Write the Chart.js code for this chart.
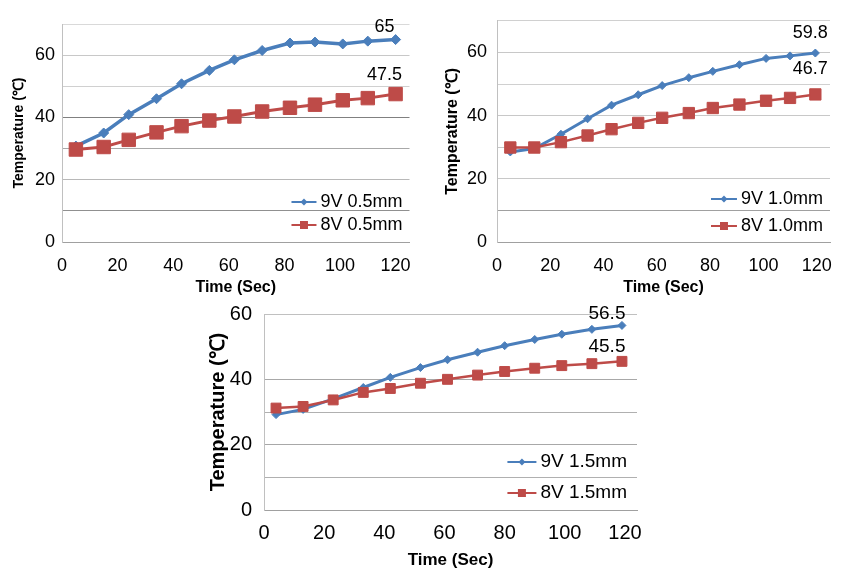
<!DOCTYPE html>
<html>
<head>
<meta charset="utf-8">
<script src="https://cdn.jsdelivr.net/npm/chart.js@4.4.1/dist/chart.umd.min.js"></script>
<style>
body { margin: 0; background: #fff; }
#wrap { position: relative; width: 843px; height: 572px; }
canvas { position: absolute; }
</style>
</head>
<body>
<div id="wrap">
<canvas id="c1" width="420" height="300" style="left:0;top:0"></canvas>
<canvas id="c2" width="423" height="300" style="left:420px;top:0"></canvas>
<canvas id="c3" width="450" height="282" style="left:200px;top:290px"></canvas>
</div>
<script>
// time (sec)
const time05 = [5, 15, 24, 34, 43, 53, 62, 72, 82, 91, 101, 110, 120];
const time10 = [5, 14, 24, 34, 43, 53, 62, 72, 81, 91, 101, 110, 119.5];
const time15 = [4, 13, 23, 33, 42, 52, 61, 71, 80, 90, 99, 109, 119];

// temperatures
const v9_05 = [30.8, 35, 40.9, 46, 50.8, 55.1, 58.5, 61.5, 63.9, 64.2, 63.6, 64.5, 65];
const v8_05 = [29.7, 30.5, 32.8, 35.2, 37.2, 39, 40.3, 41.9, 43.1, 44.1, 45.5, 46.2, 47.5];
const v9_10 = [28.5, 29.6, 34.1, 39, 43.3, 46.6, 49.5, 52, 54, 56.1, 58.1, 58.9, 59.8];
const v8_10 = [29.9, 29.9, 31.6, 33.7, 35.7, 37.7, 39.3, 40.8, 42.4, 43.5, 44.7, 45.6, 46.7];
const v9_15 = [29.2, 30.8, 34, 37.5, 40.6, 43.6, 46, 48.3, 50.3, 52.2, 53.8, 55.3, 56.5];
const v8_15 = [31.2, 31.7, 33.7, 36, 37.2, 38.8, 40, 41.3, 42.4, 43.4, 44.2, 44.8, 45.5];

const names05 = ['9V 0.5mm', '8V 0.5mm'];
const names10 = ['9V 1.0mm', '8V 1.0mm'];
const names15 = ['9V 1.5mm', '8V 1.5mm'];

const xTicks = [0, 20, 40, 60, 80, 100, 120];
const yTicks70 = [0, 10, 20, 30, 40, 50, 60, 70];
const yTicks60 = [0, 10, 20, 30, 40, 50, 60];
const yLabels = [0, 20, 40, 60];

const fam = "'Liberation Sans', Arial, sans-serif";
const blue = '#4a7ebb';
const red = '#be4b48';
Chart.defaults.font.family = fam;
Chart.defaults.color = '#000';

function marker(ctx, style, x, y, r) {
    ctx.beginPath();
    if (style === 'rectRot') {
        ctx.moveTo(x, y - r);
        ctx.lineTo(x + r, y);
        ctx.lineTo(x, y + r);
        ctx.lineTo(x - r, y);
        ctx.closePath();
    } else {
        ctx.rect(x - r, y - r, 2 * r, 2 * r);
    }
    ctx.fill();
}

// legend drawn inside the plot, bottom right
const inlineLegend = {
    id: 'inlineLegend',
    afterDraw(chart, args, o) {
        const ctx = chart.ctx;
        const area = chart.chartArea;
        const sets = chart.data.datasets;
        ctx.save();
        ctx.font = o.size + 'px ' + fam;
        ctx.textBaseline = 'middle';
        sets.forEach((ds, i) => {
            const y = area.bottom - o.bottom - (sets.length - 1 - i) * o.spacing;
            const w = ctx.measureText(ds.label).width;
            const tx = area.right - o.pad - w;
            const x1 = tx - o.gap - o.lineLen;
            ctx.strokeStyle = ds.borderColor;
            ctx.lineWidth = 2;
            ctx.beginPath();
            ctx.moveTo(x1, y);
            ctx.lineTo(tx - o.gap, y);
            ctx.stroke();
            ctx.fillStyle = ds.borderColor;
            marker(ctx, ds.pointStyle, x1 + o.lineLen / 2, y, i === 0 ? 3.5 : 4);
            ctx.fillStyle = '#000';
            ctx.fillText(ds.label, tx, y);
        });
        ctx.restore();
    }
};

// value of the last point, written above it
const endLabels = {
    id: 'endLabels',
    afterDatasetsDraw(chart, args, o) {
        const ctx = chart.ctx;
        ctx.save();
        ctx.font = o.size + 'px ' + fam;
        ctx.fillStyle = '#000';
        ctx.textAlign = 'center';
        ctx.textBaseline = 'middle';
        chart.data.datasets.forEach((ds, i) => {
            const pts = chart.getDatasetMeta(i).data;
            const p = pts[pts.length - 1];
            ctx.fillText(String(ds.data[ds.data.length - 1].y), p.x + o.dx, p.y + o.dy[i]);
        });
        ctx.restore();
    }
};

function makeChart(id, time, s9, s8, names, st) {
    const pts = vals => time.map((t, i) => ({x: t, y: vals[i]}));
    return new Chart(document.getElementById(id), {
        type: 'line',
        data: {
            datasets: [
                {
                    label: names[0], data: pts(s9), order: 1,
                    borderColor: blue, backgroundColor: blue, pointBackgroundColor: blue, pointBorderColor: blue,
                    pointStyle: 'rectRot', pointRadius: st.r9, borderWidth: st.w9, pointBorderWidth: 1
                },
                {
                    label: names[1], data: pts(s8), order: 0,
                    borderColor: red, backgroundColor: red, pointBackgroundColor: red, pointBorderColor: red,
                    pointStyle: 'rect', pointRadius: st.r8, borderWidth: st.w8, pointBorderWidth: 1
                }
            ]
        },
        options: {
            responsive: false,
            animation: false,
            layout: {padding: {top: st.top, right: st.right, left: 0, bottom: 0}},
            plugins: {
                legend: {display: false},
                tooltip: {enabled: false},
                inlineLegend: st.legend,
                endLabels: st.labels
            },
            scales: {
                x: {
                    type: 'linear', min: 0, max: st.xMax,
                    afterBuildTicks: a => { a.ticks = xTicks.map(v => ({value: v})); },
                    afterFit: a => { a.height = st.xH; },
                    grid: {display: false},
                    border: {color: '#a0a0a0'},
                    ticks: {font: {size: st.tick}, color: '#000', padding: st.xPad, maxRotation: 0, autoSkip: false},
                    title: {display: true, text: 'Time (Sec)', color: '#000',
                        font: {size: st.xTitle, weight: 'bold'}, padding: {top: 0, bottom: st.xTitlePad}}
                },
                y: {
                    min: 0, max: st.yTicks[st.yTicks.length - 1],
                    afterBuildTicks: a => { a.ticks = st.yTicks.map(v => ({value: v})); },
                    afterFit: a => { a.width = st.yW; },
                    grid: {color: c => st.grid[c.index], drawTicks: false},
                    border: {color: '#c0c0c0'},
                    ticks: {font: {size: st.tick}, color: '#000', padding: st.yPad,
                        callback: v => yLabels.includes(v) ? v : ''},
                    title: {display: true, text: 'Temperature (℃)', color: '#000',
                        font: {size: st.yTitle, weight: 'bold'}, padding: {top: st.yTitlePad, bottom: 0}}
                }
            }
        },
        plugins: [inlineLegend, endLabels]
    });
}

makeChart('c1', time05, v9_05, v8_05, names05, {
    top: 24, right: 8, yW: 62, xH: 58, xMax: 125, yTicks: yTicks70,
    tick: 18, xPad: 5, yPad: 7, xTitle: 16, xTitlePad: 3, yTitle: 14, yTitlePad: 11,
    r9: 5, r8: 9.5, w9: 3.5, w8: 3,
    grid: ['#a0a0a0', '#909090', '#b8b8b8', '#a8a8a8', '#808080', '#d0d0d0', '#c8c8c8', '#d9d9d9'],
    legend: {size: 18, pad: 7, gap: 4, lineLen: 25, bottom: 17, spacing: 23},
    labels: {size: 18, dx: -11, dy: [-13, -19]}
});

makeChart('c2', time10, v9_10, v8_10, names10, {
    top: 13, right: 13, yW: 77, xH: 58, xMax: 125, yTicks: yTicks70,
    tick: 18, xPad: 5, yPad: 10, xTitle: 16, xTitlePad: 3, yTitle: 16, yTitlePad: 23,
    r9: 4, r8: 8, w9: 3, w8: 2.5,
    grid: ['#a8a8a8', '#a0a0a0', '#c8c8c8', '#c8c8c8', '#c8c8c8', '#d0d0d0', '#c8c8c8', '#d0d0d0'],
    legend: {size: 18, pad: 7, gap: 4, lineLen: 26, bottom: 16, spacing: 27},
    labels: {size: 18, dx: -5, dy: [-20, -25]}
});

makeChart('c3', time15, v9_15, v8_15, names15, {
    top: 20, right: 13, yW: 64, xH: 62, xMax: 124, yTicks: yTicks60,
    tick: 20, xPad: 3, yPad: 12, xTitle: 17, xTitlePad: 1, yTitle: 20, yTitlePad: 6,
    r9: 4, r8: 7, w9: 3, w8: 2.5,
    grid: ['#a8a8a8', '#b0b0b0', '#a8a8a8', '#b0b0b0', '#a8a8a8', 'rgba(0,0,0,0)', '#c0c0c0'],
    legend: {size: 19, pad: 10, gap: 4, lineLen: 29, bottom: 17, spacing: 31},
    labels: {size: 19, dx: -15, dy: [-12, -15]}
});
</script>
</body>
</html>
